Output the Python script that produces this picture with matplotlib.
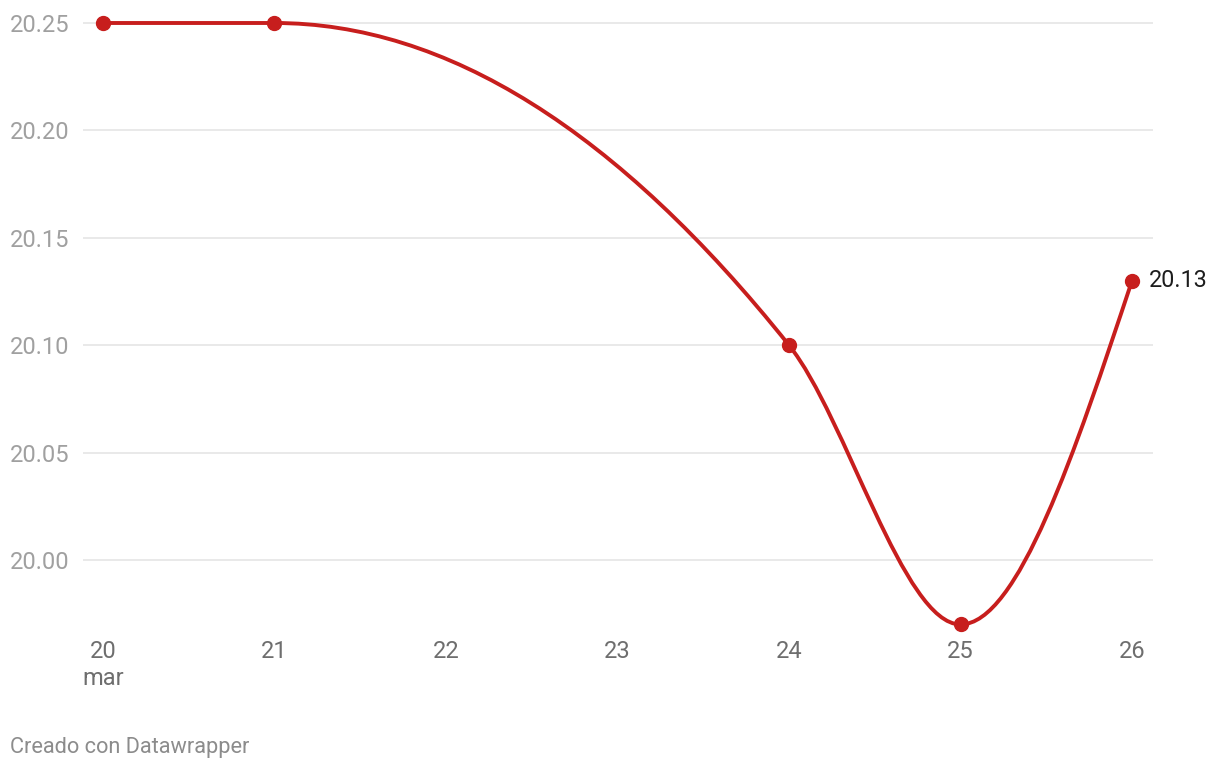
import numpy as np
import matplotlib
matplotlib.use("Agg")
import matplotlib.pyplot as plt
from matplotlib.path import Path
from matplotlib.patches import PathPatch

plt.rcParams['font.family'] = ['Roboto', 'DejaVu Sans']

# data (March)
days = [20, 21, 24, 25, 26]
values = [20.25, 20.25, 20.10, 19.97, 20.13]
y_ticks = [20.00, 20.05, 20.10, 20.15, 20.20, 20.25]
x_ticks = [20, 21, 22, 23, 24, 25, 26]
x_labels = ["20\nmar", "21", "22", "23", "24", "25", "26"]
last_label = "20.13"

RED = "#c71e1d"


def monotone_path(x, y):
    # same curve as d3.curveMonotoneX, as cubic bezier segments
    x = np.asarray(x, float)
    y = np.asarray(y, float)
    n = len(x)
    h = np.diff(x)
    s = np.diff(y) / h
    t = np.zeros(n)
    for i in range(1, n - 1):
        p = (s[i - 1] * h[i] + s[i] * h[i - 1]) / (h[i - 1] + h[i])
        t[i] = (np.sign(s[i - 1]) + np.sign(s[i])) * min(abs(s[i - 1]), abs(s[i]), 0.5 * abs(p))
    t[0] = (3 * s[0] - t[1]) / 2
    t[-1] = (3 * s[-1] - t[-2]) / 2
    verts = [(x[0], y[0])]
    codes = [Path.MOVETO]
    for i in range(n - 1):
        dx = h[i] / 3
        verts += [(x[i] + dx, y[i] + dx * t[i]),
                  (x[i + 1] - dx, y[i + 1] - dx * t[i + 1]),
                  (x[i + 1], y[i + 1])]
        codes += [Path.CURVE4] * 3
    return Path(verts, codes)


fig = plt.figure(figsize=(12.2, 7.7), dpi=100)
ax = fig.add_axes([83 / 1220, 130 / 770, 1070 / 1220, 630 / 770])

ax.set_xlim(19.8834, 26.1224)
ax.set_ylim(19.96276, 20.25605)

for v in y_ticks:
    ax.axhline(v, color="#e3e3e3", lw=1.1, zorder=1)

ax.add_patch(PathPatch(monotone_path(days, values), facecolor="none",
                       edgecolor=RED, lw=2.8, zorder=3, capstyle="round"))
ax.plot(days, values, "o", color=RED, markersize=10, zorder=4, clip_on=False)

ax.annotate(last_label, (days[-1], values[-1]), xytext=(12, 0), textcoords="offset points",
            va="center", ha="left", fontsize=16.8, color="#1d1d1d", annotation_clip=False)

ax.set_yticks(y_ticks)
ax.set_yticklabels([f"{v:.2f}" for v in y_ticks], ha="left")
ax.tick_params(axis="y", length=0, pad=52.5, labelsize=17, labelcolor="#a0a0a0")

ax.set_xticks(x_ticks)
ax.set_xticklabels(x_labels, linespacing=1.2)
ax.tick_params(axis="x", length=0, pad=0, labelsize=17, labelcolor="#6e6e6e")

for sp in ax.spines.values():
    sp.set_visible(False)

fig.text(10 / 1220, 1 - 748 / 770, "Creado con Datawrapper", fontsize=15.7,
         color="#8c8c8c", va="center", ha="left")

fig.savefig("out.png", dpi=100, facecolor="white")
